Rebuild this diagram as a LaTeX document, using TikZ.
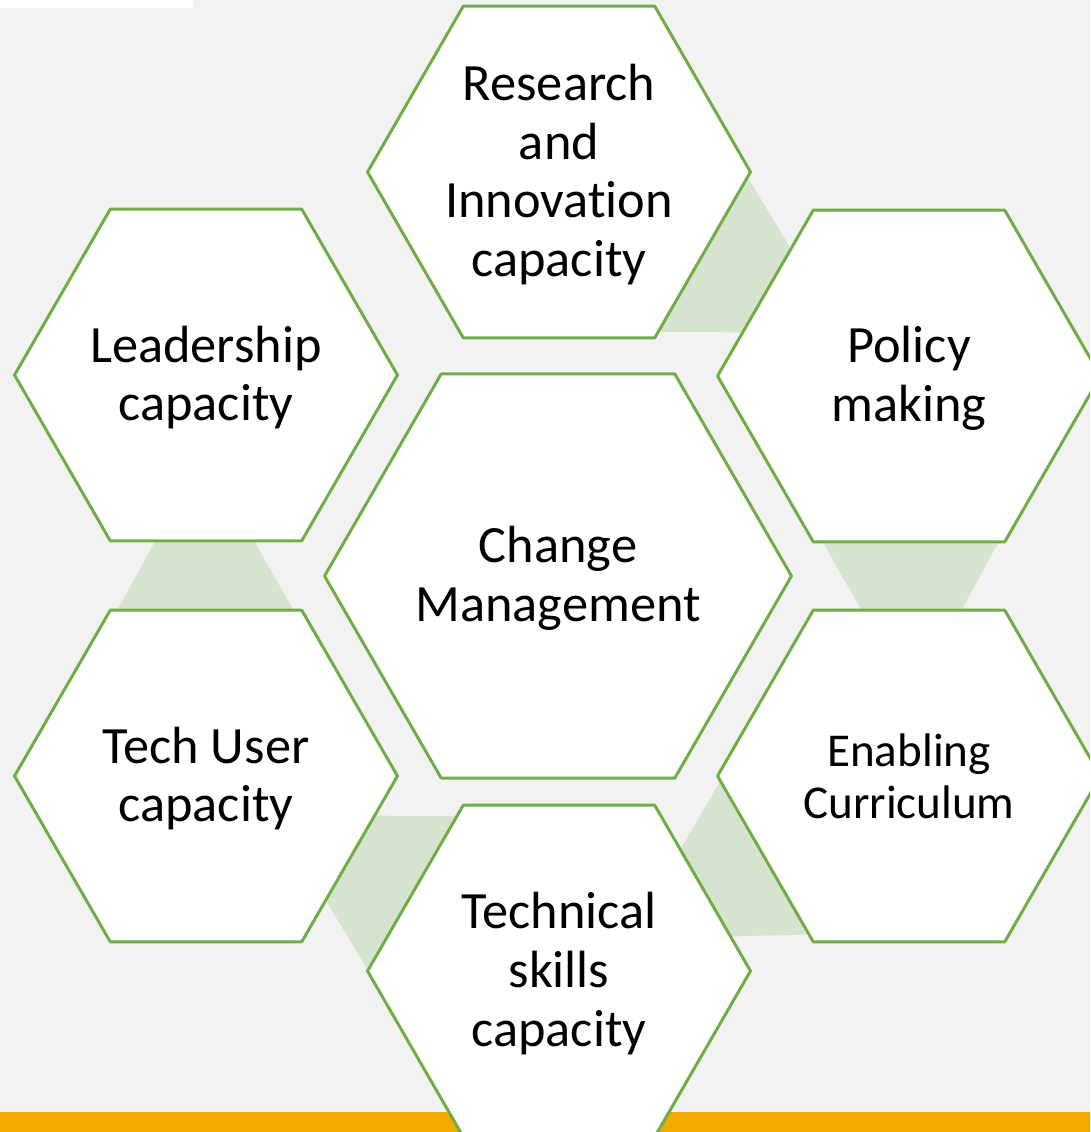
\documentclass[tikz,border=0pt]{standalone}
\usepackage{fontspec}
\setmainfont{Carlito}[Ligatures={NoCommon}]
\usetikzlibrary{shapes.geometric}
\definecolor{bgGray}{HTML}{F2F2F2}
\definecolor{hexGreen}{HTML}{70AD47}
\definecolor{linkGreen}{HTML}{D6E3CF}
\definecolor{barOrange}{HTML}{F4A900}

\begin{document}
\begin{tikzpicture}[line cap=round,line join=round,x=0.02cm,y=-0.02cm,
  hexa/.style={regular polygon,regular polygon sides=6,draw=hexGreen,line width=1.7pt,fill=white,inner sep=0pt},
  hexsmall/.style={hexa,minimum size=7.66cm},
  hexbig/.style={hexa,minimum size=9.34cm},
  lbl/.style={align=center,yshift=-0.05cm,font=\fontsize{29.8}{33.5}\selectfont},
  lblsmall/.style={align=center,font=\fontsize{26.8}{29.5}\selectfont}]
\useasboundingbox (0,0) rectangle (1090,1132);
\clip (0,0) rectangle (1090,1132);
\fill[bgGray] (0,0) rectangle (1090,1132);
\fill[white] (0,0) rectangle (193,8);
\fill[barOrange] (0,1112) rectangle (1090,1132);

\foreach \a/\dy in {0/0,-120/2,180/0,120/-6,60/-6}
  \fill[linkGreen,shift={(558,{576+\dy})},rotate=\a] (-389,-60) -- (-318,-60) -- (-250,60) -- (-455,60) -- cycle;

\node[hexsmall] (res) at (559,172) {};
\node[hexsmall] (lead) at (206,375) {};
\node[hexsmall] (pol) at (909,376) {};
\node[hexbig] (chg) at (558,576) {};
\node[hexsmall] (tuse) at (206,776) {};
\node[hexsmall] (curr) at (909,776) {};
\node[hexsmall] (tech) at (559,971) {};

\node[lbl] (res-t) at (res) {Research\\and\\Innovation\\capacity};
\node[lbl] (lead-t) at (lead) {Leadership\\capacity};
\node[lbl] (pol-t) at (pol) {Policy\\making};
\node[lbl] (chg-t) at (chg) {Change\\Management};
\node[lbl] (tuse-t) at (tuse) {Tech User\\capacity};
\node[lblsmall] (curr-t) at (curr) {Enabling\\Curriculum};
\node[lbl] (tech-t) at (tech) {Technical\\skills\\capacity};
\end{tikzpicture}
\end{document}
